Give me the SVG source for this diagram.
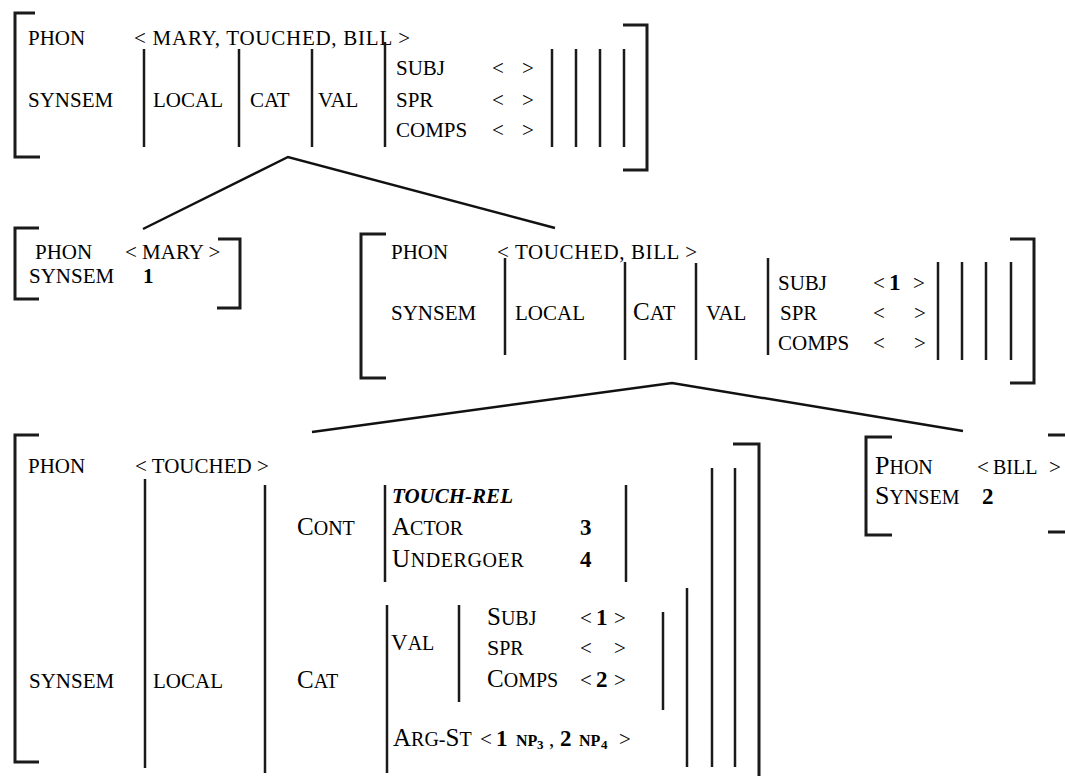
<svg xmlns="http://www.w3.org/2000/svg" width="1065" height="776" viewBox="0 0 1065 776">
<style>
.t{font-family:"Liberation Serif","Times New Roman",serif;font-size:21px;fill:#000}
.b{font-weight:bold}
.n{font-weight:bold;font-size:23px}
.bi{font-weight:bold;font-style:italic}
.L{font-size:25px}
.S{font-size:20px}
.br{stroke:#1a1a1a;stroke-width:3;fill:none}
.bar{stroke:#1a1a1a;stroke-width:2.5}
.conn{stroke:#111;stroke-width:2.5;fill:none}
</style>
<rect width="1065" height="776" fill="#fff"/>

<g id="connectors">
<polyline class="conn" points="143,229 288,157 555,228"/>
<polyline class="conn" points="312,432 672,383 963,431"/>
</g>

<g id="avm-top">
<polyline class="br" points="35,13 15,13 15,157 40,157"/>
<polyline class="br" points="623,25 647,25 647,170 623,170"/>
<text class="t" x="28" y="45">PHON</text>
<text class="t" x="134" y="45" textLength="276" lengthAdjust="spacing">&lt; MARY, TOUCHED, BILL &gt;</text>
<text class="t" x="28" y="107">SYNSEM</text>
<text class="t" x="153" y="107">LOCAL</text>
<text class="t" x="250" y="107">CAT</text>
<text class="t" x="318" y="107">VAL</text>
<text class="t" x="396" y="75">SUBJ</text>
<text class="t" x="396" y="107">SPR</text>
<text class="t" x="396" y="137">COMPS</text>
<text class="t" x="492" y="75">&lt; <tspan x="522">&gt;</tspan></text>
<text class="t" x="492" y="107">&lt; <tspan x="522">&gt;</tspan></text>
<text class="t" x="492" y="137">&lt; <tspan x="522">&gt;</tspan></text>
<line class="bar" x1="144" y1="49" x2="144" y2="147"/>
<line class="bar" x1="239" y1="49" x2="239" y2="147"/>
<line class="bar" x1="312" y1="49" x2="312" y2="147"/>
<line class="bar" x1="385" y1="42" x2="385" y2="147"/>
<line class="bar" x1="552" y1="49" x2="552" y2="147"/>
<line class="bar" x1="576" y1="49" x2="576" y2="147"/>
<line class="bar" x1="600" y1="49" x2="600" y2="147"/>
<line class="bar" x1="624" y1="49" x2="624" y2="147"/>
</g>

<g id="avm-mary">
<polyline class="br" points="39,228 15,228 15,299 39,299"/>
<polyline class="br" points="218,239 240,239 240,308 217,308"/>
<text class="t" x="35" y="259">PHON</text>
<text class="t" x="125" y="259">&lt; MARY &gt;</text>
<text class="t" x="29" y="283">SYNSEM</text>
<text class="t b" x="143" y="283">1</text>
</g>

<g id="avm-vp">
<polyline class="br" points="386,234 361,234 361,378 386,378"/>
<polyline class="br" points="1010,239 1034,239 1034,383 1010,383"/>
<text class="t" x="391" y="259">PHON</text>
<text class="t" x="497" y="259" textLength="200" lengthAdjust="spacing">&lt; TOUCHED, BILL &gt;</text>
<text class="t" x="391" y="320">SYNSEM</text>
<text class="t" x="515" y="320">LOCAL</text>
<text class="t" x="633" y="320"><tspan class="L">C</tspan>AT</text>
<text class="t" x="706" y="320">VAL</text>
<text class="t" x="778" y="290">SUBJ</text>
<text class="t" x="780" y="320">SPR</text>
<text class="t" x="778" y="350">COMPS</text>
<text class="t" x="873" y="290">&lt;<tspan class="n" x="889">1</tspan><tspan x="913">&gt;</tspan></text>
<text class="t" x="873" y="320">&lt; <tspan x="914">&gt;</tspan></text>
<text class="t" x="873" y="350">&lt; <tspan x="914">&gt;</tspan></text>
<line class="bar" x1="505" y1="258" x2="505" y2="355"/>
<line class="bar" x1="625" y1="262" x2="625" y2="360"/>
<line class="bar" x1="696" y1="263" x2="696" y2="360"/>
<line class="bar" x1="768" y1="258" x2="768" y2="355"/>
<line class="bar" x1="938" y1="262" x2="938" y2="360"/>
<line class="bar" x1="962" y1="262" x2="962" y2="360"/>
<line class="bar" x1="986" y1="262" x2="986" y2="360"/>
<line class="bar" x1="1011" y1="262" x2="1011" y2="360"/>
</g>

<g id="avm-touched">
<polyline class="br" points="39,435 15,435 15,762 39,762"/>
<polyline class="br" points="733,444 759,444 759,780"/>
<text class="t" x="28" y="473">PHON</text>
<text class="t" x="135" y="473">&lt; TOUCHED &gt;</text>
<text class="t" x="297" y="535"><tspan class="L">C</tspan><tspan class="S">ONT</tspan></text>
<text class="t bi" x="392" y="503">TOUCH-REL</text>
<text class="t" x="392" y="535"><tspan class="L">A</tspan><tspan class="S">CTOR</tspan></text>
<text class="t n" x="580" y="535">3</text>
<text class="t" x="392" y="567" letter-spacing="0.6"><tspan class="L">U</tspan><tspan class="S">NDERGOER</tspan></text>
<text class="t n" x="580" y="567">4</text>
<text class="t" x="29" y="688">SYNSEM</text>
<text class="t" x="153" y="688">LOCAL</text>
<text class="t" x="297" y="688"><tspan class="L">C</tspan><tspan class="S">AT</tspan></text>
<text class="t" x="391" y="650"><tspan font-size="23">V</tspan><tspan class="S">AL</tspan></text>
<text class="t" x="487" y="625"><tspan class="L">S</tspan><tspan class="S">UBJ</tspan></text>
<text class="t" x="487" y="655"><tspan font-size="22">S</tspan><tspan class="S">PR</tspan></text>
<text class="t" x="487" y="687"><tspan class="L">C</tspan><tspan class="S">OMPS</tspan></text>
<text class="t" x="580" y="625">&lt;<tspan class="n" x="596">1</tspan><tspan x="614">&gt;</tspan></text>
<text class="t" x="580" y="655">&lt; <tspan x="614">&gt;</tspan></text>
<text class="t" x="580" y="687">&lt;<tspan class="n" x="596">2</tspan><tspan x="614">&gt;</tspan></text>
<text class="t" x="393" y="746"><tspan class="L">A</tspan><tspan class="S">RG-</tspan><tspan class="L">S</tspan><tspan class="S">T</tspan><tspan x="480">&lt;</tspan><tspan class="n" x="496">1</tspan><tspan class="b" x="516" font-size="16">NP</tspan><tspan class="b" x="537" dy="3" font-size="13">3</tspan><tspan x="549" dy="-3">,</tspan><tspan class="n" x="560">2</tspan><tspan class="b" x="579" font-size="16">NP</tspan><tspan class="b" x="601" dy="3" font-size="13">4</tspan><tspan x="619" dy="-3">&gt;</tspan></text>
<line class="bar" x1="145" y1="479" x2="145" y2="768"/>
<line class="bar" x1="265" y1="485" x2="265" y2="773"/>
<line class="bar" x1="385" y1="485" x2="385" y2="582"/>
<line class="bar" x1="626" y1="485" x2="626" y2="582"/>
<line class="bar" x1="387" y1="605" x2="387" y2="773"/>
<line class="bar" x1="459" y1="605" x2="459" y2="702"/>
<line class="bar" x1="663" y1="612" x2="663" y2="710"/>
<line class="bar" x1="687" y1="588" x2="687" y2="767"/>
<line class="bar" x1="712" y1="468" x2="712" y2="767"/>
<line class="bar" x1="735" y1="468" x2="735" y2="767"/>
</g>

<g id="avm-bill">
<polyline class="br" points="892,437 866,437 866,535 892,535"/>
<polyline class="br" points="1048,435 1068,435 1068,532 1048,532"/>
<text class="t" x="875" y="474"><tspan font-size="26">P</tspan><tspan class="S">HON</tspan></text>
<text class="t" x="977" y="474">&lt;<tspan class="S" x="993">BILL</tspan><tspan x="1049">&gt;</tspan></text>
<text class="t" x="875" y="504"><tspan font-size="26">S</tspan><tspan class="S">YNSEM</tspan></text>
<text class="t n" x="982" y="504">2</text>
</g>
</svg>
